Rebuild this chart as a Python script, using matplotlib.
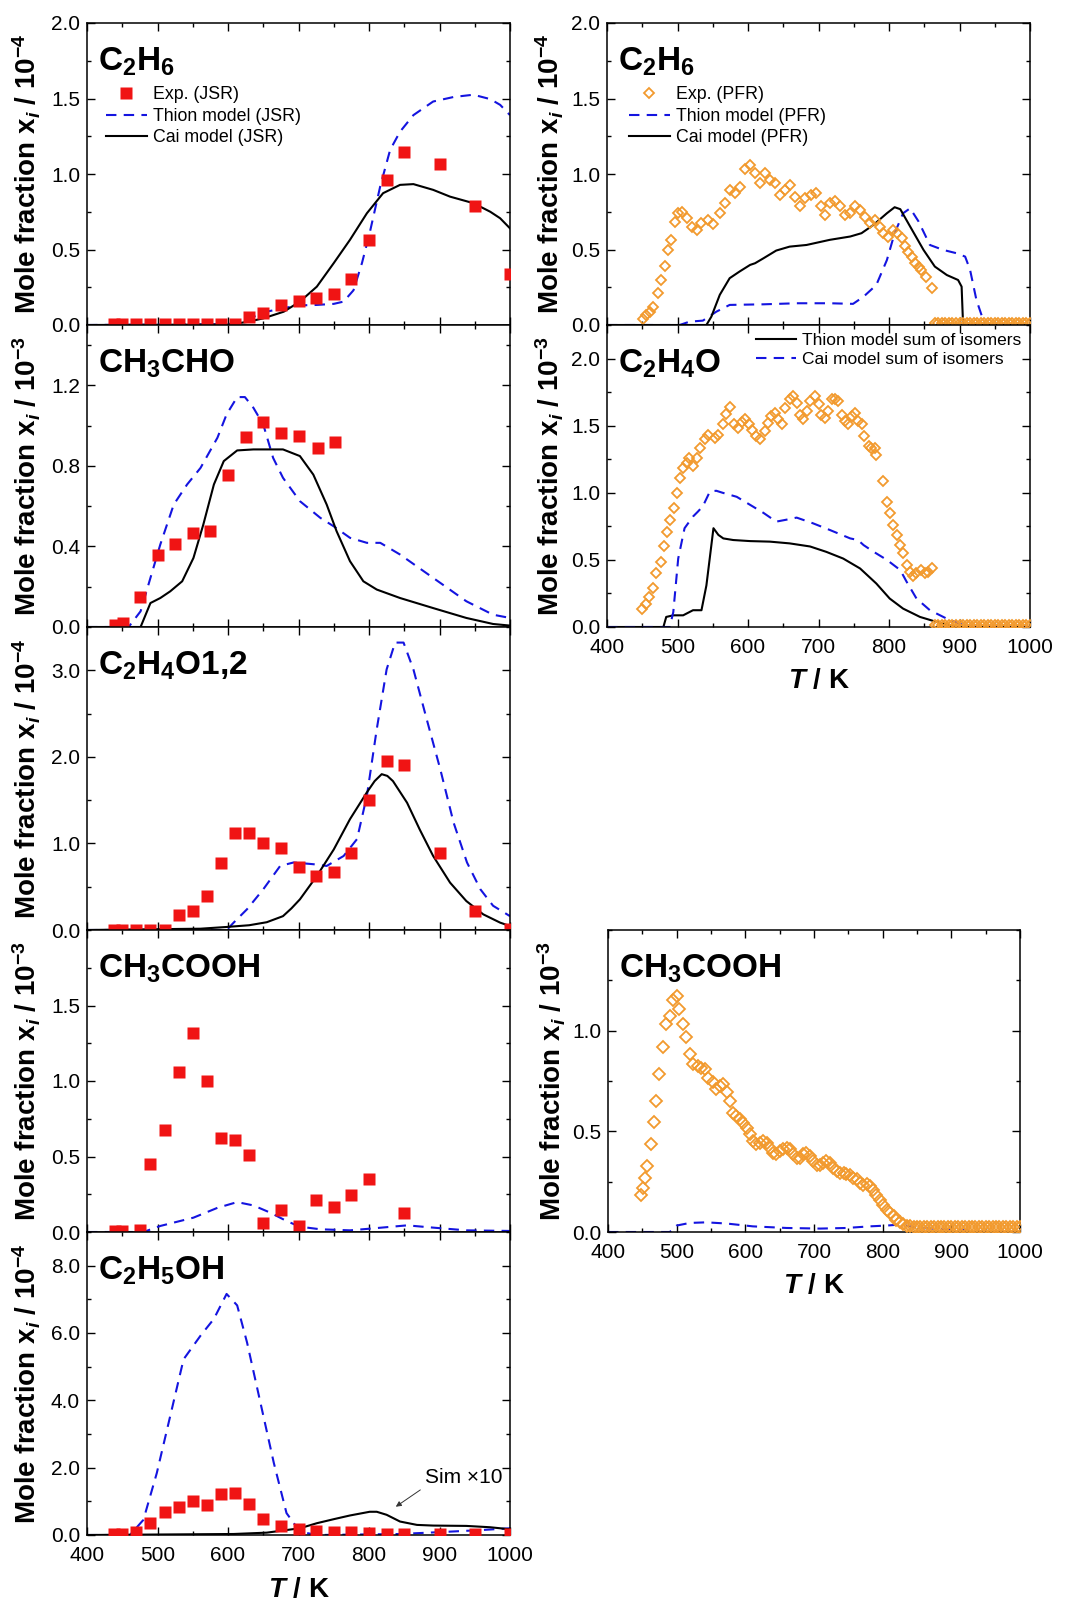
import matplotlib
matplotlib.use("Agg")
import matplotlib.pyplot as plt
from matplotlib.ticker import MultipleLocator, FormatStrFormatter

plt.rcParams.update({
    "font.family": "Liberation Sans",
    "mathtext.fontset": "custom",
    "mathtext.rm": "Liberation Sans",
    "mathtext.bf": "Liberation Sans:bold",
    "mathtext.it": "Liberation Sans:italic",
    "mathtext.bfit": "Liberation Sans:italic:bold",
    "axes.linewidth": 1.1,
})

RED = "#f01414"
ORANGE = "#f29a2e"
BLUE = "#1414e0"

# ---------------- JSR (left column) ----------------
T_jsr = [438, 450, 470, 490, 510, 530, 550, 570, 590, 610, 630, 650, 675,
         700, 725, 750, 775, 800, 825, 850, 900, 950, 1000]

# C2H6, 1e-4
c2h6_jsr_exp = [0.005, 0.005, 0.005, 0.005, 0.005, 0.005, 0.005, 0.005, 0.005,
                0.005, 0.055, 0.077, 0.133, 0.16, 0.177, 0.203, 0.303, 0.564,
                0.957, 1.145, 1.065, 0.789, 0.336]
c2h6_jsr_thion_T = [400, 600, 630, 655, 676, 702, 726, 750, 764, 778, 790, 801,
                    816, 830, 844, 863, 891, 920, 948, 972, 986, 1000]
c2h6_jsr_thion = [0, 0.005, 0.044, 0.088, 0.11, 0.13, 0.133, 0.14, 0.155, 0.23,
                  0.41, 0.61, 0.92, 1.16, 1.28, 1.39, 1.48, 1.51, 1.525, 1.496,
                  1.458, 1.39]
c2h6_jsr_cai_T = [400, 600, 627, 650, 679, 702, 726, 750, 773, 797, 820, 844,
                  863, 891, 915, 948, 972, 986, 1000]
c2h6_jsr_cai = [0, 0.003, 0.02, 0.044, 0.088, 0.155, 0.254, 0.41, 0.564, 0.74,
                0.873, 0.928, 0.933, 0.895, 0.85, 0.807, 0.75, 0.707, 0.64]

# CH3CHO, 1e-3
ch3cho_T = [440, 451, 475, 500, 525, 550, 575, 600, 625, 650, 675, 700, 728, 752]
ch3cho_exp = [0.012, 0.02, 0.149, 0.36, 0.41, 0.467, 0.479, 0.753, 0.943,
              1.018, 0.965, 0.948, 0.887, 0.92]
ch3cho_thion_T = [400, 459, 476, 490, 504, 523, 542, 561, 585, 598, 613, 624,
                  636, 650, 664, 678, 702, 731, 750, 773, 797, 816, 844, 891,
                  938, 976, 1000]
ch3cho_thion = [0, 0, 0.078, 0.244, 0.41, 0.608, 0.708, 0.79, 0.94, 1.056,
                1.142, 1.142, 1.089, 1.006, 0.84, 0.741, 0.625, 0.542, 0.5,
                0.443, 0.418, 0.418, 0.36, 0.244, 0.128, 0.061, 0.045]
ch3cho_cai_T = [400, 476, 490, 504, 518, 535, 551, 565, 580, 594, 613, 636,
                678, 702, 721, 740, 754, 773, 792, 811, 844, 891, 938, 976, 1000]
ch3cho_cai = [0, 0, 0.119, 0.144, 0.177, 0.227, 0.343, 0.509, 0.708, 0.824,
              0.877, 0.882, 0.882, 0.849, 0.757, 0.608, 0.476, 0.327, 0.227,
              0.186, 0.144, 0.094, 0.045, 0.015, 0.007]

# C2H4O1,2, 1e-4
c2h4o12_exp = [0.005, 0.005, 0.005, 0.005, 0.005, 0.17, 0.216, 0.393, 0.778,
               1.117, 1.117, 1.009, 0.951, 0.728, 0.624, 0.67, 0.893, 1.502,
               1.952, 1.902, 0.893, 0.22, 0.015]
c2h4o12_thion_T = [400, 598, 608, 627, 650, 674, 693, 721, 740, 764, 783, 797,
                   811, 825, 837, 849, 863, 882, 901, 920, 939, 958, 976, 1000]
c2h4o12_thion = [0, 0, 0.085, 0.24, 0.47, 0.74, 0.78, 0.76, 0.74, 0.855, 1.05,
                 1.55, 2.32, 3.01, 3.32, 3.32, 3.01, 2.43, 1.86, 1.24, 0.78,
                 0.47, 0.28, 0.16]
c2h4o12_cai_T = [400, 561, 598, 630, 655, 678, 690, 702, 726, 750, 773, 797,
                 808, 818, 826, 834, 854, 872, 891, 915, 938, 962, 986, 1000]
c2h4o12_cai = [0, 0.015, 0.035, 0.055, 0.09, 0.16, 0.25, 0.354, 0.624, 0.93,
               1.28, 1.59, 1.72, 1.8, 1.78, 1.72, 1.47, 1.16, 0.855, 0.547,
               0.335, 0.181, 0.085, 0.046]

# CH3COOH (JSR), 1e-3
ch3cooh_jsr_T = [440, 450, 475, 490, 510, 530, 550, 570, 590, 610, 630, 650,
                 675, 700, 725, 750, 775, 800, 850]
ch3cooh_jsr_exp = [0.007, 0.007, 0.011, 0.452, 0.678, 1.057, 1.315, 0.998,
                   0.623, 0.606, 0.507, 0.057, 0.143, 0.04, 0.211, 0.165,
                   0.242, 0.352, 0.123]
ch3cooh_jsr_thion_T = [400, 480, 504, 551, 585, 613, 636, 660, 683, 702, 731,
                       773, 801, 854, 891, 938, 1000]
ch3cooh_jsr_thion = [0, 0, 0.04, 0.095, 0.16, 0.198, 0.176, 0.128, 0.073,
                     0.035, 0.018, 0.011, 0.022, 0.044, 0.029, 0.011, 0.007]

# C2H5OH, 1e-4
c2h5oh_exp = [0.03, 0.03, 0.1, 0.37, 0.67, 0.82, 1.0, 0.9, 1.21, 1.24, 0.92,
              0.47, 0.27, 0.17, 0.13, 0.08, 0.08, 0.07, 0.04, 0.04, 0.04, 0.04,
              0.04]
c2h5oh_thion_T = [400, 461, 480, 499, 518, 537, 561, 580, 598, 613, 627, 646,
                  665, 683, 702, 726, 844, 915, 962, 1000]
c2h5oh_thion = [0, 0, 0.45, 1.84, 3.53, 5.22, 5.92, 6.42, 7.16, 6.82, 5.72,
                3.93, 2.14, 0.65, 0.1, 0, 0.03, 0.1, 0.15, 0.2]
c2h5oh_cai_T = [400, 608, 655, 702, 726, 750, 773, 801, 811, 825, 844, 868,
                891, 938, 972, 1000]
c2h5oh_cai_x10 = [0, 0.03, 0.07, 0.2, 0.35, 0.47, 0.58, 0.69, 0.69, 0.6, 0.4,
                  0.3, 0.28, 0.27, 0.23, 0.17]

# ---------------- PFR (right column) ----------------
T_tail = [865, 870, 875, 880, 885, 890, 895, 900, 905, 910, 915, 920, 925, 930,
          935, 940, 945, 950, 955, 960, 965, 970, 975, 980, 985, 990, 995, 1000]

# C2H6, 1e-4
c2h6_pfr_T = [451, 456, 461, 465, 472, 477, 482, 487, 491, 496, 501, 506, 513,
              520, 527, 534, 543, 551, 560, 567, 574, 581, 588, 596, 603, 610,
              617, 624, 631, 638, 645, 652, 659, 666, 674, 681, 690, 697, 704,
              709, 716, 723, 730, 737, 745, 752, 759, 766, 773, 780, 787, 792,
              799, 806, 811, 818, 823, 827, 832, 837, 842, 846, 853, 861] + T_tail
c2h6_pfr_exp = [0.038, 0.066, 0.088, 0.12, 0.21, 0.3, 0.39, 0.5, 0.56, 0.68,
                0.74, 0.75, 0.707, 0.652, 0.63, 0.674, 0.696, 0.67, 0.74,
                0.807, 0.895, 0.873, 0.917, 1.03, 1.06, 1.005, 0.94, 1.005,
                0.96, 0.94, 0.862, 0.895, 0.928, 0.85, 0.785, 0.84, 0.862,
                0.873, 0.785, 0.73, 0.807, 0.818, 0.785, 0.73, 0.74, 0.785,
                0.762, 0.718, 0.674, 0.696, 0.652, 0.608, 0.586, 0.63, 0.608,
                0.575, 0.52, 0.486, 0.453, 0.41, 0.387, 0.365, 0.32, 0.243,
                0.012, 0.012, 0.012, 0.012, 0.012, 0.012, 0.012, 0.012, 0.012,
                0.012, 0.012, 0.012, 0.012, 0.012, 0.012, 0.012, 0.012, 0.012,
                0.012, 0.012, 0.012, 0.012, 0.012, 0.012, 0.012, 0.012, 0.012,
                0.012]
c2h6_pfr_thion_T = [400, 503, 517, 536, 555, 574, 622, 669, 716, 749, 764, 782,
                    797, 808, 820, 830, 842, 858, 877, 896, 908, 915, 924, 936,
                    1000]
c2h6_pfr_thion = [0, 0, 0.022, 0.029, 0.088, 0.133, 0.137, 0.144, 0.144, 0.14,
                  0.188, 0.265, 0.43, 0.608, 0.74, 0.773, 0.685, 0.53, 0.497,
                  0.475, 0.453, 0.365, 0.166, 0, 0]
c2h6_pfr_cai_T = [400, 541, 548, 560, 574, 588, 603, 610, 622, 640, 659, 683,
                  716, 745, 761, 778, 797, 808, 816, 830, 849, 865, 882, 898,
                  903, 905, 908, 1000]
c2h6_pfr_cai = [0, 0, 0.055, 0.2, 0.31, 0.354, 0.398, 0.409, 0.442, 0.493,
                0.519, 0.53, 0.564, 0.586, 0.608, 0.663, 0.74, 0.78, 0.767,
                0.652, 0.497, 0.387, 0.331, 0.298, 0.254, 0.011, 0, 0]

# C2H4O (sum of isomers), 1e-3
c2h4o_T = [450, 455, 460, 465, 469, 476, 481, 485, 490, 495, 499, 503, 508,
           513, 517, 522, 527, 532, 539, 543, 553, 557, 564, 569, 574, 580,
           586, 591, 596, 601, 606, 612, 617, 624, 629, 633, 638, 643, 648,
           652, 659, 664, 669, 674, 678, 683, 688, 695, 700, 704, 709, 714,
           719, 723, 728, 733, 738, 742, 747, 752, 756, 761, 764, 771, 775,
           780, 782, 792, 797, 801, 806, 811, 816, 820, 825, 830, 834, 839,
           845, 851, 856, 861] + T_tail
c2h4o_exp = [0.132, 0.175, 0.224, 0.287, 0.4, 0.486, 0.6, 0.71, 0.8, 0.885,
             1.0, 1.11, 1.185, 1.22, 1.26, 1.2, 1.26, 1.334, 1.4, 1.434, 1.41,
             1.434, 1.51, 1.59, 1.64, 1.51, 1.48, 1.53, 1.546, 1.51, 1.47,
             1.42, 1.397, 1.46, 1.52, 1.57, 1.596, 1.546, 1.51, 1.63, 1.696,
             1.72, 1.67, 1.58, 1.546, 1.61, 1.683, 1.72, 1.66, 1.58, 1.56,
             1.61, 1.696, 1.696, 1.683, 1.58, 1.534, 1.51, 1.57, 1.596, 1.534,
             1.51, 1.42, 1.347, 1.334, 1.334, 1.284, 1.085, 0.935, 0.848,
             0.76, 0.686, 0.61, 0.55, 0.46, 0.41, 0.38, 0.4, 0.424, 0.4, 0.41,
             0.44,
             0.012, 0.012, 0.012, 0.012, 0.012, 0.012, 0.012, 0.012, 0.012,
             0.012, 0.012, 0.012, 0.012, 0.012, 0.012, 0.012, 0.012, 0.012,
             0.012, 0.012, 0.012, 0.012, 0.012, 0.012, 0.012, 0.012, 0.012,
             0.012]
c2h4o_thion_T = [400, 480, 484, 494, 508, 522, 534, 541, 551, 558, 565, 579,
                 603, 631, 659, 688, 711, 735, 759, 782, 801, 820, 844, 868,
                 896, 1000]
c2h4o_thion = [0, 0, 0.075, 0.087, 0.087, 0.125, 0.125, 0.31, 0.736, 0.686,
               0.66, 0.648, 0.64, 0.636, 0.623, 0.6, 0.56, 0.51, 0.436, 0.324,
               0.212, 0.137, 0.075, 0.037, 0, 0]
c2h4o_cai_T = [400, 489, 494, 501, 510, 522, 529, 536, 546, 555, 564, 584,
               603, 622, 640, 655, 669, 692, 716, 745, 756, 764, 778, 797, 816,
               825, 839, 858, 882, 906, 920, 1000]
c2h4o_cai = [0, 0, 0.11, 0.51, 0.736, 0.823, 0.86, 0.9, 1.01, 1.015, 1.0,
             0.97, 0.91, 0.85, 0.785, 0.8, 0.815, 0.773, 0.723, 0.66, 0.648,
             0.61, 0.561, 0.5, 0.424, 0.337, 0.212, 0.125, 0.062, 0.012, 0, 0]

# CH3COOH (PFR), 1e-3
ch3cooh_pfr_T = [448, 451, 454, 457, 462, 467, 470, 474, 480, 484, 490, 495,
                 500, 504, 509, 514, 519, 524, 531, 536, 541, 546, 553, 558,
                 563, 568, 573, 577, 582, 587, 592, 597, 602, 607, 611, 616,
                 621, 626, 631, 636, 641, 645, 650, 655, 660, 665, 670, 675,
                 679, 684, 689, 694, 699, 704, 709, 713, 718, 723, 728, 733,
                 738, 743, 747, 752, 757, 762, 767, 772, 777, 781, 786, 791,
                 796, 801, 806, 811, 816, 820, 825, 830, 835, 840, 845, 850,
                 855, 860] + T_tail
ch3cooh_pfr_exp = [0.186, 0.219, 0.269, 0.327, 0.435, 0.546, 0.651, 0.784,
                   0.917, 1.033, 1.075, 1.15, 1.171, 1.108, 1.033, 0.967,
                   0.884, 0.834, 0.826, 0.817, 0.81, 0.767, 0.743, 0.709,
                   0.726, 0.734, 0.693, 0.651, 0.593, 0.576, 0.56, 0.543,
                   0.518, 0.485, 0.452, 0.435, 0.444, 0.452, 0.444, 0.419,
                   0.394, 0.385, 0.402, 0.41, 0.419, 0.41, 0.385, 0.369, 0.369,
                   0.385, 0.39, 0.377, 0.352, 0.335, 0.335, 0.344, 0.352, 0.344,
                   0.319, 0.302, 0.294, 0.294, 0.286, 0.281, 0.269, 0.261,
                   0.244, 0.231, 0.236, 0.228, 0.211, 0.186, 0.161, 0.136,
                   0.111, 0.095, 0.078, 0.061, 0.048, 0.042, 0.032, 0.028,
                   0.025, 0.025, 0.025, 0.025,
                   0.025, 0.025, 0.025, 0.025, 0.025, 0.025, 0.025, 0.025,
                   0.025, 0.025, 0.025, 0.025, 0.025, 0.025, 0.025, 0.025,
                   0.025, 0.025, 0.025, 0.025, 0.025, 0.025, 0.025, 0.025,
                   0.025, 0.025, 0.025, 0.025]
ch3cooh_pfr_thion_T = [400, 490, 500, 519, 543, 573, 611, 660, 709, 747, 781,
                       806, 825, 854, 903, 952, 1000]
ch3cooh_pfr_thion = [0, 0, 0.032, 0.045, 0.048, 0.042, 0.028, 0.02, 0.017,
                     0.02, 0.028, 0.032, 0.037, 0.02, 0.012, 0.003, 0]

# ---------------- figure ----------------
W, H = 1065, 1604
fig = plt.figure(figsize=(W / 100, H / 100), dpi=100)


def frame(x0, y0, x1, y1):
    return fig.add_axes([x0 / W, 1 - y1 / H, (x1 - x0) / W, (y1 - y0) / H])


def style(ax, top, yticks, yminor, exp, label_x, bottom=False, xlab_y=-0.18):
    ax.set_xlim(400, 1000)
    ax.set_ylim(0, top)
    ax.xaxis.set_major_locator(MultipleLocator(100))
    ax.xaxis.set_minor_locator(MultipleLocator(50))
    ax.set_yticks(yticks)
    ax.yaxis.set_minor_locator(MultipleLocator(yminor))
    ax.yaxis.set_major_formatter(FormatStrFormatter("%.1f"))
    ax.tick_params(which="both", direction="in", top=True, right=True,
                   width=1.0, labelsize=15)
    ax.tick_params(axis="y", pad=5)
    ax.tick_params(axis="x", pad=8)
    ax.tick_params(which="major", length=5.5)
    ax.tick_params(which="minor", length=3)
    if not bottom:
        ax.tick_params(labelbottom=False)
    ax.set_ylabel(r"Mole fraction $\mathbf{x}_{\mathbfit{i}}$ / 10$^{\mathbf{%d}}$" % exp,
                  fontsize=20, fontweight="bold", va="center")
    ax.yaxis.set_label_coords(label_x, 0.5)
    if bottom:
        ax.set_xlabel(r"$\mathbfit{T}$ / K", fontsize=20, fontweight="bold",
                      va="center")
        ax.xaxis.set_label_coords(0.5, xlab_y)


def species(ax, text):
    ax.text(0.027, 0.925, text, transform=ax.transAxes, fontsize=24,
            fontweight="bold", va="top", ha="left")


def exp_jsr(ax, T, x, label=None):
    return ax.plot(T, x, "s", color=RED, ms=8.4, mec="none", label=label,
                   zorder=3)[0]


def exp_pfr(ax, T, x, label=None, ms=5.6):
    return ax.plot(T, x, "D", mfc="none", mec=ORANGE, mew=1.3, ms=ms,
                   ls="none", label=label, zorder=3)[0]


def dashed(ax, T, x, label=None):
    return ax.plot(T, x, color=BLUE, lw=1.5, dashes=(5, 3.5), label=label)[0]


def solid(ax, T, x, label=None):
    return ax.plot(T, x, color="black", lw=1.5, label=label)[0]


LX, RX0, RX1 = (87, 510), 607, 1030
rows = [23, 325, 627, 930, 1232, 1535]

# left column
a1 = frame(LX[0], rows[0], LX[1], rows[1])
hs = [exp_jsr(a1, T_jsr, c2h6_jsr_exp, "Exp. (JSR)"),
      dashed(a1, c2h6_jsr_thion_T, c2h6_jsr_thion, "Thion model (JSR)"),
      solid(a1, c2h6_jsr_cai_T, c2h6_jsr_cai, "Cai model (JSR)")]
style(a1, 2.0, [0, 0.5, 1.0, 1.5, 2.0], 0.25, -4, -0.142)
species(a1, r"C$_\mathbf{2}$H$_\mathbf{6}$")
a1.legend(handles=hs, loc="upper left", bbox_to_anchor=(0.045, 0.79),
          frameon=False, fontsize=12.8, numpoints=1, handlelength=2.3,
          handletextpad=0.35, labelspacing=0.25, borderpad=0, borderaxespad=0)

a2 = frame(LX[0], rows[1], LX[1], rows[2])
dashed(a2, ch3cho_thion_T, ch3cho_thion)
solid(a2, ch3cho_cai_T, ch3cho_cai)
exp_jsr(a2, ch3cho_T, ch3cho_exp)
style(a2, 1.5, [0, 0.4, 0.8, 1.2], 0.2, -3, -0.142)
species(a2, r"CH$_\mathbf{3}$CHO")

a3 = frame(LX[0], rows[2], LX[1], rows[3])
dashed(a3, c2h4o12_thion_T, c2h4o12_thion)
solid(a3, c2h4o12_cai_T, c2h4o12_cai)
exp_jsr(a3, T_jsr, c2h4o12_exp)
style(a3, 3.5, [0, 1.0, 2.0, 3.0], 0.5, -4, -0.142)
species(a3, r"C$_\mathbf{2}$H$_\mathbf{4}$O1,2")

a4 = frame(LX[0], rows[3], LX[1], rows[4])
dashed(a4, ch3cooh_jsr_thion_T, ch3cooh_jsr_thion)
exp_jsr(a4, ch3cooh_jsr_T, ch3cooh_jsr_exp)
style(a4, 2.0, [0, 0.5, 1.0, 1.5], 0.25, -3, -0.142)
species(a4, r"CH$_\mathbf{3}$COOH")

a5 = frame(LX[0], rows[4], LX[1], rows[5])
dashed(a5, c2h5oh_thion_T, c2h5oh_thion)
solid(a5, c2h5oh_cai_T, c2h5oh_cai_x10)
exp_jsr(a5, T_jsr, c2h5oh_exp)
style(a5, 9.0, [0, 2.0, 4.0, 6.0, 8.0], 1.0, -4, -0.142, bottom=True,
      xlab_y=-0.18)
species(a5, r"C$_\mathbf{2}$H$_\mathbf{5}$OH")
a5.annotate("Sim \u00d710", xy=(838, 0.84), xytext=(880, 1.7), fontsize=15,
            va="center", ha="left",
            arrowprops=dict(arrowstyle="-|>", color="#333333", lw=0.7,
                            mutation_scale=8, relpos=(0.02, 0.1),
                            shrinkA=2, shrinkB=0))

# right column
b1 = frame(RX0, rows[0], RX1, rows[1])
hs = [exp_pfr(b1, c2h6_pfr_T, c2h6_pfr_exp, "Exp. (PFR)"),
      dashed(b1, c2h6_pfr_thion_T, c2h6_pfr_thion, "Thion model (PFR)"),
      solid(b1, c2h6_pfr_cai_T, c2h6_pfr_cai, "Cai model (PFR)")]
style(b1, 2.0, [0, 0.5, 1.0, 1.5, 2.0], 0.25, -4, -0.135)
species(b1, r"C$_\mathbf{2}$H$_\mathbf{6}$")
b1.legend(handles=hs, loc="upper left", bbox_to_anchor=(0.052, 0.79),
          frameon=False, fontsize=12.8, numpoints=1, handlelength=2.3,
          handletextpad=0.35, labelspacing=0.25, borderpad=0, borderaxespad=0)

b2 = frame(RX0, rows[1], RX1, rows[2])
exp_pfr(b2, c2h4o_T, c2h4o_exp)
h_th = solid(b2, c2h4o_thion_T, c2h4o_thion, "Thion model sum of isomers")
h_cai = dashed(b2, c2h4o_cai_T, c2h4o_cai, "Cai model sum of isomers")
style(b2, 2.25, [0, 0.5, 1.0, 1.5, 2.0], 0.25, -3, -0.135, bottom=True,
      xlab_y=-0.18)
species(b2, r"C$_\mathbf{2}$H$_\mathbf{4}$O")
b2.legend(handles=[h_th, h_cai], loc="upper left", bbox_to_anchor=(0.353, 0.975),
          frameon=False, fontsize=12.5, handlelength=2.3, handletextpad=0.35,
          labelspacing=0.25, borderpad=0, borderaxespad=0)

b3 = frame(608, rows[3], 1020, rows[4])
dashed(b3, ch3cooh_pfr_thion_T, ch3cooh_pfr_thion)
exp_pfr(b3, ch3cooh_pfr_T, ch3cooh_pfr_exp, ms=6.6)
style(b3, 1.5, [0, 0.5, 1.0], 0.25, -3, -0.136, bottom=True, xlab_y=-0.18)
species(b3, r"CH$_\mathbf{3}$COOH")

fig.savefig("out.png", dpi=100)
